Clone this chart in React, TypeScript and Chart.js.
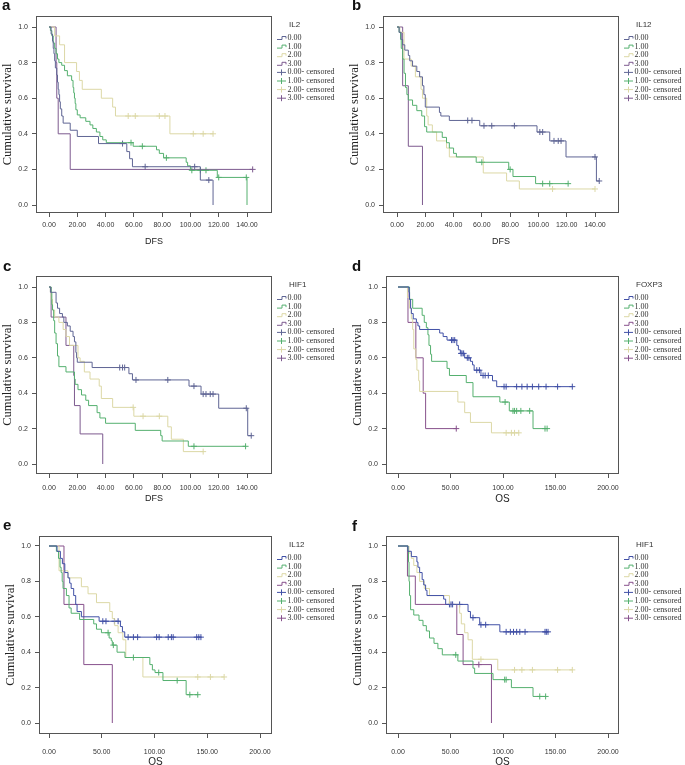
import React, { useEffect, useRef } from "react";
import { Chart, registerables } from "chart.js";
Chart.register(...registerables);

// ---------------- data ----------------
const GROUP_LABELS = ["0.00", "1.00", "2.00", "3.00"];
const CENSOR_LABELS = ["0.00- censored", "1.00- censored", "2.00- censored", "3.00- censored"];
const DFS_X_TICKS = [0, 20, 40, 60, 80, 100, 120, 140];
const OS_X_TICKS = [0, 50, 100, 150, 200];
const Y_TICKS = [0, 0.2, 0.4, 0.6, 0.8, 1.0];

// a: IL2 (DFS) — [time, survival after event]
const A_G0 = [[1.5,0.96],[2.5,0.92],[3,0.88],[3.5,0.85],[4,0.81],[4.5,0.77],[5.5,0.73],[6,0.69],[6.5,0.65],[7,0.62],[7.5,0.58],[8,0.54],[9,0.5],[10,0.46],[15,0.42],[20,0.385],[35,0.345],[55,0.3],[57,0.26],[59,0.215],[107,0.14],[116,0]];
const A_C0 = [52, 68, 103, 113];
const A_G1 = [[1,0.98],[2,0.95],[3,0.91],[4,0.88],[5,0.85],[6,0.82],[7,0.8],[9,0.785],[11,0.755],[13,0.726],[16,0.7],[17,0.66],[17.5,0.63],[18,0.6],[18.5,0.57],[19,0.535],[20,0.506],[22,0.49],[26,0.47],[29,0.45],[31,0.43],[33.5,0.41],[36,0.385],[38,0.366],[40.5,0.35],[59.5,0.33],[76,0.31],[78,0.29],[81,0.265],[97,0.24],[98,0.22],[100,0.195],[119,0.155],[140,0]];
const A_C1 = [58, 66, 83, 101, 107, 111, 120, 139.5];
const A_G2 = [[4,0.95],[7.5,0.9],[11,0.8],[19.5,0.75],[21.5,0.7],[23.5,0.65],[37,0.6],[45,0.55],[47,0.5],[85.5,0.4]];
const A_C2 = [56, 61, 78, 82, 102, 109, 116];
const A_G3 = [[5,0.8],[5.5,0.6],[6.5,0.4],[15,0.2]];
const A_C3 = [144];

// b: IL12 (DFS)
const B_G0 = [[1.5,0.97],[3,0.93],[4,0.9],[5.5,0.87],[8,0.84],[9,0.81],[11,0.78],[14,0.75],[16,0.72],[18,0.67],[19,0.62],[20,0.55],[30,0.52],[31,0.5],[37,0.475],[58.5,0.445],[99,0.41],[108,0.36],[119.5,0.27],[141,0.135]];
const B_C0 = [50, 53, 61.5, 67, 83, 101, 103, 111, 114, 116, 140, 143];
const B_G1 = [[1.5,0.97],[2.5,0.93],[3,0.88],[4,0.82],[5,0.74],[6,0.66],[7,0.62],[8,0.59],[11,0.56],[14,0.53],[17.5,0.5],[19.5,0.44],[21,0.41],[32,0.38],[35,0.35],[37,0.32],[40,0.29],[42,0.27],[56,0.24],[79,0.2],[82,0.16],[98,0.12]];
const B_C1 = [60, 80, 103, 108, 121];
const B_G2 = [[2,0.97],[5,0.82],[10,0.78],[13,0.72],[17,0.65],[18,0.6],[21,0.5],[22,0.45],[25,0.41],[28,0.36],[35,0.32],[37,0.27],[61,0.18],[77.5,0.135],[86.5,0.09]];
const B_C2 = [110, 140];
const B_G3 = [[4,0.67],[8,0.33],[18,0]];
const B_C3: number[] = [];

// c: HIF1 (DFS)
const C_G0 = [[1,0.97],[5,0.91],[6,0.88],[7.5,0.85],[9.5,0.83],[10.5,0.8],[13,0.78],[15,0.75],[17,0.72],[18,0.69],[19,0.63],[19.5,0.6],[20,0.575],[30.5,0.545],[56.5,0.51],[59,0.475],[99,0.44],[107.5,0.395],[120,0.315],[140.5,0.16]];
const C_C0 = [50, 52, 53.5, 61.5, 84, 102.5, 109, 111, 114, 116, 139.5, 143];
const C_G1 = [[1.5,0.97],[2,0.9],[2.5,0.87],[3.3,0.81],[4,0.74],[5,0.68],[6,0.61],[7,0.55],[12,0.52],[18,0.48],[18.5,0.45],[20.5,0.42],[23,0.39],[26,0.36],[28,0.33],[34,0.29],[36,0.26],[40,0.23],[61,0.19],[79,0.16],[80,0.13],[98.5,0.1]];
const C_C1 = [102.5, 139];
const C_G2 = [[1,0.97],[1.5,0.93],[2.5,0.87],[4,0.83],[7,0.8],[10,0.76],[12,0.72],[14.5,0.67],[20.5,0.6],[22,0.58],[25,0.52],[29,0.48],[35.5,0.44],[37,0.37],[45,0.32],[60,0.27],[84,0.21],[86.5,0.14],[95,0.07]];
const C_C2 = [59.5, 66.5, 78, 109];
const C_G3 = [[1.5,0.83],[12,0.67],[17.5,0.5],[18,0.33],[22,0.17],[38,0]];
const C_C3: number[] = [];

// d: FOXP3 (OS)
const D_G0 = [[10.5,0.97],[11,0.93],[12,0.88],[12.7,0.85],[14.5,0.82],[17.5,0.8],[19,0.78],[20.6,0.76],[39.7,0.74],[43,0.72],[46.7,0.7],[56,0.67],[57.5,0.645],[59.4,0.625],[63.5,0.6],[69,0.58],[71,0.56],[72.5,0.53],[79,0.5],[90,0.47],[94,0.437]];
const D_C0 = [51, 52.4, 54, 60, 61, 62.5, 66, 67.5, 75, 77.5, 81, 83, 86, 101, 103, 113, 118, 123, 128, 134, 141, 152, 166];
const D_G1 = [[11,0.93],[14,0.88],[23,0.84],[25,0.8],[27,0.77],[28.5,0.73],[29.5,0.67],[31,0.62],[32,0.58],[46.7,0.54],[49,0.5],[65,0.46],[71.4,0.38],[97,0.35],[106,0.3],[128.6,0.2]];
const D_C1 = [102, 109.5, 111, 113, 117, 125.4, 140, 142];
const D_G2 = [[9,0.94],[11,0.88],[12.7,0.82],[14,0.76],[15,0.65],[17,0.59],[18,0.53],[19.7,0.47],[20.6,0.41],[57,0.35],[63.5,0.29],[69,0.235],[89,0.176]];
const D_C2 = [103, 108, 111, 115];
const D_G3 = [[9.5,0.8],[17,0.6],[24,0.4],[26.3,0.2]];
const D_C3 = [55.5];

// e: IL12 (OS)
const E_G0 = [[7.6,0.97],[10.8,0.93],[12.7,0.9],[15,0.85],[18,0.82],[19.6,0.79],[21,0.76],[23.4,0.72],[25.3,0.67],[26.6,0.63],[30.7,0.6],[47.5,0.575],[67.7,0.545],[69.6,0.515],[71.8,0.485]];
const E_C0 = [51, 54, 62, 65.5, 75, 80, 84, 102, 104.4, 113, 116, 117.7, 140, 142, 144];
const E_G1 = [[7,0.97],[9,0.93],[10.5,0.88],[11.5,0.85],[12.5,0.8],[13.3,0.76],[16.5,0.72],[19,0.65],[21,0.62],[29,0.585],[42.4,0.56],[45,0.53],[49.7,0.51],[57,0.48],[59,0.465],[60,0.44],[64.5,0.4],[72,0.37],[95.6,0.33],[98,0.3],[100.5,0.285],[108,0.24],[130,0.16]];
const E_C1 = [56, 61, 80, 104, 121.5, 133.5, 141];
const E_G2 = [[9.5,0.86],[18,0.82],[30.7,0.77],[37,0.73],[45,0.68],[57.6,0.63],[60,0.59],[62.3,0.55],[65.5,0.51],[70,0.47],[72.8,0.37],[89,0.26]];
const E_C2 = [141, 153, 166];
const E_G3 = [[14.2,0.67],[33,0.33],[60,0]];
const E_C3: number[] = [];

// f: HIF1 (OS)
const F_G0 = [[9.5,0.97],[12.7,0.94],[18,0.91],[19,0.88],[20.6,0.85],[23,0.81],[24.5,0.78],[26.3,0.75],[27.6,0.72],[43.5,0.7],[45.4,0.67],[66.7,0.63],[69,0.595],[77.8,0.555],[97,0.515]];
const F_C0 = [49, 50.5, 52, 58.7, 71.4, 79, 83.5, 103, 107, 110, 113, 116, 121, 140, 141.3, 142.9];
const F_G1 = [[9.5,0.97],[10,0.91],[10.5,0.8],[11,0.72],[12,0.64],[15,0.61],[20,0.58],[23.8,0.55],[27,0.52],[30,0.48],[34.3,0.45],[38,0.42],[42.2,0.385],[57,0.35],[71.4,0.31],[73,0.28],[90.5,0.245],[108,0.2],[128.6,0.15]];
const F_C1 = [55, 101.6, 103, 135, 140.6];
const F_G2 = [[10.5,0.96],[12.7,0.93],[15,0.89],[18,0.85],[20.6,0.8],[25,0.76],[30,0.72],[49,0.67],[58.7,0.62],[60.3,0.56],[63.5,0.51],[66.7,0.47],[70.8,0.36],[95,0.3]];
const F_C2 = [79, 111, 118, 128, 152, 166];
const F_G3 = [[9,0.83],[16.5,0.67],[56,0.5],[62,0.33],[89,0]];
const F_C3 = [77];

// ---------------- panels ----------------
const PANELS = [
  { letter: "a", marker: "IL2", xTitle: "DFS", xTicks: DFS_X_TICKS, groups: [A_G0, A_G1, A_G2, A_G3], cens: [A_C0, A_C1, A_C2, A_C3], os: false },
  { letter: "b", marker: "IL12", xTitle: "DFS", xTicks: DFS_X_TICKS, groups: [B_G0, B_G1, B_G2, B_G3], cens: [B_C0, B_C1, B_C2, B_C3], os: false },
  { letter: "c", marker: "HIF1", xTitle: "DFS", xTicks: DFS_X_TICKS, groups: [C_G0, C_G1, C_G2, C_G3], cens: [C_C0, C_C1, C_C2, C_C3], os: false },
  { letter: "d", marker: "FOXP3", xTitle: "OS", xTicks: OS_X_TICKS, groups: [D_G0, D_G1, D_G2, D_G3], cens: [D_C0, D_C1, D_C2, D_C3], os: true },
  { letter: "e", marker: "IL12", xTitle: "OS", xTicks: OS_X_TICKS, groups: [E_G0, E_G1, E_G2, E_G3], cens: [E_C0, E_C1, E_C2, E_C3], os: true },
  { letter: "f", marker: "HIF1", xTitle: "OS", xTicks: OS_X_TICKS, groups: [F_G0, F_G1, F_G2, F_G3], cens: [F_C0, F_C1, F_C2, F_C3], os: true },
];

// layout (page pixels)
const LAYOUT = [
  { cellL: 0, cellT: 0, cellR: 340, box: [36, 16, 272, 213], x0: 49, xr: 247, xrv: 140, y1: 27, y0: 205, tickOff: 12, titleOff: 29, lx: 2, ly: 10 },
  { cellL: 340, cellT: 0, cellR: 685, box: [383, 16, 619, 213], x0: 397, xr: 595, xrv: 140, y1: 27, y0: 205, tickOff: 12, titleOff: 29, lx: 352, ly: 10 },
  { cellL: 0, cellT: 250, cellR: 340, box: [36, 276, 272, 474], x0: 49, xr: 247, xrv: 140, y1: 287, y0: 464, tickOff: 14, titleOff: 25, lx: 3, ly: 271 },
  { cellL: 340, cellT: 250, cellR: 685, box: [386, 276, 619, 474], x0: 398, xr: 608, xrv: 200, y1: 287, y0: 464, tickOff: 14, titleOff: 25, lx: 352, ly: 271 },
  { cellL: 0, cellT: 505, cellR: 340, box: [39, 536, 272, 734], x0: 49, xr: 260, xrv: 200, y1: 546, y0: 723, tickOff: 18, titleOff: 28, lx: 3, ly: 530 },
  { cellL: 340, cellT: 505, cellR: 685, box: [386, 536, 619, 734], x0: 398, xr: 608, xrv: 200, y1: 546, y0: 723, tickOff: 18, titleOff: 28, lx: 352, ly: 531 },
];

const COLORS_DFS = ["#5f6594", "#55b06f", "#dcd8a6", "#7d5a8f"];
const COLORS_OS = ["#4050a6", "#55b06f", "#dcd8a6", "#87518c"];
const Y_AXIS_W = 36;
const X_AXIS_H = 40;
const TICK_FONT = '"Liberation Sans Narrow", "Liberation Sans", Arial, sans-serif';

function kmSteps(events: number[][], cens: number[]) {
  const pts = [{ x: 0, y: 1 }];
  events.forEach(([t, s]) => pts.push({ x: t, y: s }));
  const last = pts[pts.length - 1];
  const maxC = cens.length ? Math.max(...cens) : 0;
  if (maxC > last.x && last.y > 0) pts.push({ x: maxC, y: last.y });
  return pts;
}
function survAt(events: number[][], t: number) {
  let s = 1;
  for (const [et, es] of events) if (et <= t) s = es;
  return s;
}

function Panel({ idx }: { idx: number }) {
  const ref = useRef<HTMLCanvasElement>(null);
  const p = PANELS[idx];
  const L = LAYOUT[idx];
  const [bl, bt, br, bb] = L.box;
  const width = L.cellR - L.cellL;
  const height = bb + X_AXIS_H - L.cellT;

  useEffect(() => {
    const colors = p.os ? COLORS_OS : COLORS_DFS;
    const ppu = (L.xr - L.x0) / L.xrv;
    const xmin = -(L.x0 - bl) / ppu;
    const xmax = L.xrv + (br - L.xr) / ppu;
    const ppy = L.y0 - L.y1;
    const ymax = 1 + (L.y1 - bt) / ppy;
    const ymin = -(bb - L.y0) / ppy;

    const datasets: any[] = [];
    p.groups.forEach((g, i) => {
      datasets.push({
        data: kmSteps(g, p.cens[i]),
        stepped: true,
        borderColor: colors[i],
        borderWidth: 1,
        pointRadius: 0,
        fill: false,
        tension: 0,
      });
    });
    p.groups.forEach((g, i) => {
      datasets.push({
        data: p.cens[i].map((t) => ({ x: t, y: survAt(g, t) })),
        showLine: false,
        pointStyle: "cross",
        pointRadius: 3,
        pointBorderColor: colors[i],
        pointBackgroundColor: colors[i],
        pointBorderWidth: 1,
        borderColor: colors[i],
      });
    });

    const xTitleSize = p.os ? 10 : 9;
    const legendPlugin = {
      id: "kmDecor",
      afterDraw(chart: any) {
        const { ctx, chartArea } = chart;
        ctx.save();
        // frame
        ctx.strokeStyle = "#555";
        ctx.lineWidth = 1;
        ctx.strokeRect(Math.round(chartArea.left) + 0.5, Math.round(chartArea.top) + 0.5,
          Math.round(chartArea.right - chartArea.left) - 1, Math.round(chartArea.bottom - chartArea.top) - 1);
        // panel letter
        ctx.fillStyle = "#111";
        ctx.font = 'bold 15px "Liberation Sans", Arial, sans-serif';
        ctx.textBaseline = "alphabetic";
        ctx.textAlign = "left";
        ctx.fillText(p.letter, L.lx - L.cellL, L.ly - L.cellT);
        // legend
        const x0 = chartArea.right + 5;
        const ty = chartArea.top + 9;
        ctx.font = '8px ' + TICK_FONT;
        ctx.fillStyle = "#333";
        ctx.textBaseline = "middle";
        ctx.fillText(p.marker, x0 + 12, ty);
        ctx.font = '8px "Liberation Serif", "Times New Roman", serif';
        for (let i = 0; i < 8; i++) {
          const y = ty + 13 + i * 8.6;
          const c = colors[i % 4];
          ctx.strokeStyle = c;
          ctx.lineWidth = 1;
          ctx.beginPath();
          if (i < 4) {
            ctx.moveTo(x0, y + 1.5);
            ctx.lineTo(x0 + 5, y + 1.5);
            ctx.lineTo(x0 + 5, y - 1.5);
            ctx.lineTo(x0 + 9, y - 1.5);
            ctx.lineTo(x0 + 9, y + 0.5);
          } else {
            ctx.moveTo(x0, y);
            ctx.lineTo(x0 + 9, y);
            ctx.moveTo(x0 + 4.5, y - 3);
            ctx.lineTo(x0 + 4.5, y + 3);
          }
          ctx.stroke();
          ctx.fillStyle = "#333";
          ctx.fillText(i < 4 ? GROUP_LABELS[i] : CENSOR_LABELS[i - 4], x0 + 10.5, y);
        }
        ctx.restore();
      },
    };

    const chart = new Chart(ref.current as HTMLCanvasElement, {
      type: "line",
      data: { datasets },
      options: {
        animation: false,
        responsive: false,
        events: [],
        layout: {
          padding: { left: bl - Y_AXIS_W - L.cellL, top: bt - L.cellT, right: L.cellR - br, bottom: 0 },
        },
        plugins: { legend: { display: false }, tooltip: { enabled: false } },
        scales: {
          x: {
            type: "linear",
            min: xmin,
            max: xmax,
            afterBuildTicks: (s: any) => { s.ticks = p.xTicks.map((v) => ({ value: v })); },
            afterFit: (s: any) => { s.height = X_AXIS_H; },
            ticks: {
              callback: (v: any) => Number(v).toFixed(2),
              font: { family: TICK_FONT, size: 7 },
              color: "#333",
              padding: L.tickOff - 4 - 4.2,
              maxRotation: 0,
              autoSkip: false,
            },
            grid: { display: true, drawOnChartArea: false, drawTicks: true, tickLength: 4, color: "#555" },
            border: { display: false },
            title: {
              display: true,
              text: p.xTitle,
              font: { family: '"Liberation Sans", Arial, sans-serif', size: xTitleSize },
              color: "#222",
              padding: { top: 0, bottom: X_AXIS_H - L.titleOff - xTitleSize * 0.6 },
            },
          },
          y: {
            type: "linear",
            min: ymin,
            max: ymax,
            afterBuildTicks: (s: any) => { s.ticks = Y_TICKS.map((v) => ({ value: v })); },
            afterFit: (s: any) => { s.width = Y_AXIS_W; },
            ticks: {
              callback: (v: any) => Number(v).toFixed(1),
              font: { family: TICK_FONT, size: 7 },
              color: "#333",
              padding: 4,
              autoSkip: false,
            },
            grid: { display: true, drawOnChartArea: false, drawTicks: true, tickLength: 4, color: "#555" },
            border: { display: false },
            title: {
              display: true,
              text: "Cumulative survival",
              font: { family: '"Liberation Serif", "Times New Roman", serif', size: 12.5 },
              color: "#222",
              padding: { top: 0.5, bottom: 0 },
            },
          },
        },
      },
      plugins: [legendPlugin],
    } as any);
    return () => chart.destroy();
  }, [idx]);

  return (
    <canvas
      ref={ref}
      width={width}
      height={height}
      style={{ position: "absolute", left: L.cellL, top: L.cellT, width, height }}
    />
  );
}

export default function App() {
  return (
    <div style={{ position: "absolute", left: 0, top: 0, width: 685, height: 765, overflow: "hidden", background: "#fff" }}>
      {PANELS.map((_, i) => (
        <Panel key={i} idx={i} />
      ))}
    </div>
  );
}
